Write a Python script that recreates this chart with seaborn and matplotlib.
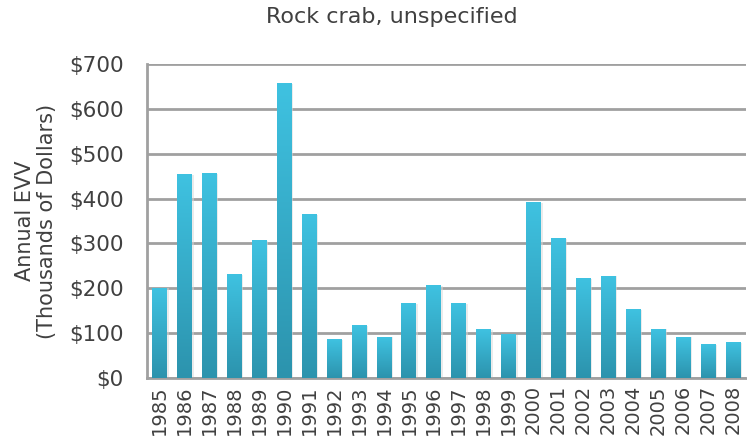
import matplotlib
matplotlib.use("Agg")
import matplotlib.pyplot as plt
import numpy as np
import pandas as pd
import seaborn as sns
from matplotlib.colors import LinearSegmentedColormap

years = [str(y) for y in range(1985, 2009)]
evv = [200, 452, 455, 230, 305, 655, 363, 85, 116, 91, 165, 205,
       165, 107, 96, 390, 310, 221, 227, 152, 109, 91, 74, 78]
yticks = [0, 100, 200, 300, 400, 500, 600, 700]
ytick_labels = ["$0", "$100", "$200", "$300", "$400", "$500", "$600", "$700"]

df = pd.DataFrame({"year": years, "evv": evv})

sns.set_style("white")
plt.rcParams["font.family"] = ["DejaVu Sans"]
text_color = "#404040"

fig = plt.figure(figsize=(7.47, 4.46), dpi=100)
ax = fig.add_axes([0.197, 0.152, 0.801, 0.705])

sns.barplot(data=df, x="year", y="evv", color="#3bbcdc", width=0.6, ax=ax, zorder=3)

grad = LinearSegmentedColormap.from_list("bar", ["#2c93ad", "#3fc2e1"])
g = np.linspace(0, 1, 256).reshape(-1, 1)
for patch in ax.patches:
    x0, y0 = patch.get_x(), patch.get_y()
    w, h = patch.get_width(), patch.get_height()
    # soft shadow to the right
    ax.bar(x0 + w / 2 + 0.06, h, width=w, bottom=y0, color="#d8d8d8", alpha=0.5,
           zorder=2.5, linewidth=0)
    ax.imshow(g, extent=[x0, x0 + w, y0, y0 + h], origin="lower", cmap=grad,
              aspect="auto", zorder=3.2)
    patch.set_visible(False)

ax.set_xlim(-0.5, len(years) - 0.5)
ax.set_ylim(0, 700)
ax.set_yticks(yticks)
ax.set_yticklabels(ytick_labels)
ax.yaxis.grid(True, color="#a0a0a0", linewidth=2, zorder=1)
ax.set_axisbelow(True)

for side in ["top", "right"]:
    ax.spines[side].set_visible(False)
ax.spines["left"].set_color("#a0a0a0")
ax.spines["left"].set_linewidth(2)
ax.spines["bottom"].set_color("#a0a0a0")
ax.spines["bottom"].set_linewidth(2)

ax.tick_params(axis="x", labelrotation=90, labelsize=14, colors=text_color, length=0, pad=5)
ax.tick_params(axis="y", labelsize=15.5, colors=text_color, length=0, pad=17)
for lbl in ax.get_xticklabels() + ax.get_yticklabels():
    lbl.set_color(text_color)

ax.set_xlabel("")
ax.set_ylabel("Annual EVV\n(Thousands of Dollars)", fontsize=15, color=text_color,
              linespacing=1.15)
ax.yaxis.set_label_coords(-0.15, 0.5)
fig.text(0.525, 0.962, "Rock crab, unspecified", fontsize=16, color=text_color,
         ha="center", va="center")

fig.savefig("out.png", dpi=100)
